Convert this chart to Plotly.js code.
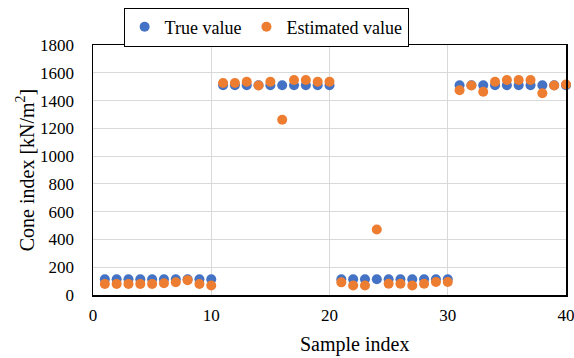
<!DOCTYPE html>
<html>
<head>
<meta charset="utf-8">
<script src="https://cdn.plot.ly/plotly-3.0.1.min.js"></script>
<style>html,body{margin:0;padding:0;background:#fff;}#chart{width:574px;height:358px;}</style>
</head>
<body>
<div id="chart"></div>
<script>
var sampleIndex = [1,2,3,4,5,6,7,8,9,10,11,12,13,14,15,16,17,18,19,20,21,22,23,24,25,26,27,28,29,30,31,32,33,34,35,36,37,38,39,40];
var trueValue = [113,113,113,113,113,113,113,113,113,113,
  1510,1510,1510,1510,1510,1510,1510,1510,1510,1510,
  113,113,113,113,113,113,113,113,113,113,
  1510,1510,1510,1510,1510,1510,1510,1510,1510,1510];
var estimatedValue = [80,80,80,80,80,85,92,107,79,69,
  1526,1526,1536,1508,1536,1262,1548,1548,1536,1536,
  91,69,69,471,81,81,69,81,93,93,
  1474,1508,1464,1536,1548,1548,1548,1452,1508,1515];
var xTicks = [0,10,20,30,40];

var markerSize = 10;
var traces = [
  {x: sampleIndex, y: trueValue, type: 'scatter', mode: 'markers', name: 'True value', cliponaxis: false,
   marker: {color: '#4472C4', size: markerSize}},
  {x: sampleIndex, y: estimatedValue, type: 'scatter', mode: 'markers', name: 'Estimated value', cliponaxis: false,
   marker: {color: '#ED7D31', size: markerSize}}
];
var fontFam = 'Liberation Serif';
var layout = {
  width: 574, height: 358,
  margin: {l: 93, r: 8, t: 43, b: 63},
  paper_bgcolor: '#fff', plot_bgcolor: '#fff',
  font: {family: fontFam, color: '#000', size: 16},
  showlegend: true,
  legend: {orientation: 'h', x: 0.366, xanchor: 'center', y: 1.15, yanchor: 'top',
    bordercolor: '#000', borderwidth: 1, font: {family: fontFam, size: 18, color: '#000'},
    itemwidth: 30, tracegroupgap: 0},
  xaxis: {range: [0, 40], tickmode: 'array', tickvals: xTicks, ticktext: xTicks.map(String),
    showgrid: true, gridcolor: '#d9d9d9', gridwidth: 1, ticklabeloverflow: 'allow',
    zeroline: false, showline: true, linecolor: '#000', linewidth: 1.5, mirror: true,
    ticks: '', ticklen: 0, tickfont: {family: fontFam, size: 17, color: '#000'}, ticklabelstandoff: 4},
  yaxis: {range: [0, 1800], dtick: 200, tick0: 0, showgrid: true, gridcolor: '#d9d9d9', gridwidth: 1,
    zeroline: false, showline: true, linecolor: '#000', linewidth: 1.5, mirror: true,
    ticks: '', tickfont: {family: fontFam, size: 17, color: '#000'}, ticklabelstandoff: 14,
    title: {text: 'Cone index [kN/m<sup>2</sup>]', font: {family: fontFam, size: 20, color: '#000'}, standoff: 0}},
  annotations: [{text: 'Sample index', xref: 'paper', yref: 'paper', x: 0.552, y: -0.198,
    xanchor: 'center', yanchor: 'middle', showarrow: false,
    font: {family: fontFam, size: 20, color: '#000'}}]
};
Plotly.newPlot('chart', traces, layout, {displayModeBar: false, staticPlot: true});
</script>
</body>
</html>
